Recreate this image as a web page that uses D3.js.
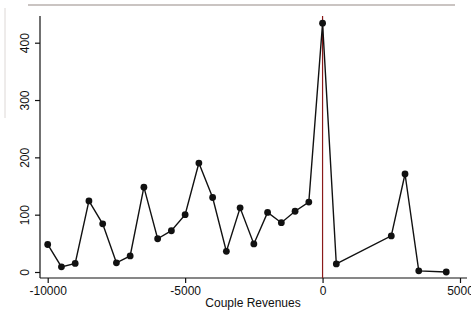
<!DOCTYPE html>
<html>
<head>
<meta charset="utf-8">
<script src="https://cdn.jsdelivr.net/npm/d3@7"></script>
<style>
  html, body { margin: 0; padding: 0; background: #fff; }
  svg { display: block; }
  text { font-family: "Liberation Sans", Arial, Helvetica, sans-serif; fill: #111; }
</style>
</head>
<body>
<svg id="chart" width="471" height="322"></svg>
<script>
// Couple revenue bins (x) and counts (y)
const revenues = [-10000, -9500, -9000, -8500, -8000, -7500, -7000, -6500, -6000, -5500,
                  -5000, -4500, -4000, -3500, -3000, -2500, -2000, -1500, -1000, -500,
                  0, 500, 2500, 3000, 3500, 4500];
const counts   = [48, 9, 15, 124, 84, 16, 28, 148, 58, 72,
                  100, 190, 130, 36, 112, 49, 104, 86, 106, 122,
                  434, 14, 63, 171, 2, 0];
const xTicks = [-10000, -5000, 0, 5000];
const yTicks = [0, 100, 200, 300, 400];
const xTitle = "Couple Revenues";

const svg = d3.select("#chart");

// scan border edges
svg.append("line").attr("x1", 28).attr("x2", 455).attr("y1", 5).attr("y2", 5)
  .attr("stroke", "#b8b0ae").attr("stroke-width", 1.5);
svg.append("line").attr("x1", 5).attr("x2", 5).attr("y1", 8).attr("y2", 118)
  .attr("stroke", "#ddd8d6").attr("stroke-width", 1);

const x = d3.scaleLinear().domain([-10000, 5000]).range([47.7, 460]);
const y = d3.scaleLinear().domain([0, 400]).range([272, 42.7]);

const plotLeft = 40, plotRight = 467, plotTop = 16, plotBottom = 278;

// Axes
const xAxis = d3.axisBottom(x).tickValues(xTicks).tickSize(5).tickPadding(3).tickFormat(d3.format("d"));
const gx = svg.append("g").attr("transform", `translate(0,${plotBottom})`).call(xAxis);
gx.select(".domain").remove();
gx.append("line").attr("x1", plotLeft).attr("x2", plotRight).attr("stroke", "#111").attr("stroke-width", 1.2);
gx.selectAll(".tick line").attr("stroke", "#111").attr("stroke-width", 1.2);
gx.selectAll(".tick text").attr("font-size", 12).attr("fill", "#111")
  .text(d => d < 0 ? "-" + Math.abs(d) : String(d));

const yAxis = d3.axisLeft(y).tickValues(yTicks).tickSize(5).tickFormat(d3.format("d"));
const gy = svg.append("g").attr("transform", `translate(${plotLeft},0)`).call(yAxis);
gy.select(".domain").remove();
gy.append("line").attr("y1", plotTop).attr("y2", plotBottom).attr("stroke", "#111").attr("stroke-width", 1.2);
gy.selectAll(".tick line").attr("stroke", "#111").attr("stroke-width", 1.2);
gy.selectAll(".tick text").attr("font-size", 12).attr("fill", "#111")
  .attr("x", 0).attr("dy", 0)
  .attr("text-anchor", "middle")
  .attr("transform", "translate(-11,0) rotate(-90)");

// x title
svg.append("text").attr("x", 253).attr("y", 307)
  .attr("text-anchor", "middle").attr("font-size", 12).text(xTitle);

// reference line at zero
svg.append("line").attr("x1", x(0)).attr("x2", x(0)).attr("y1", plotTop).attr("y2", plotBottom)
  .attr("stroke", "#8b1a1a").attr("stroke-width", 1.2);

const pts = revenues.map((r, i) => [r, counts[i]]);
const line = d3.line().x(d => x(d[0])).y(d => y(d[1]));
svg.append("path").datum(pts).attr("d", line)
  .attr("fill", "none").attr("stroke", "#111").attr("stroke-width", 1.4);

svg.append("g").selectAll("circle").data(pts).join("circle")
  .attr("cx", d => x(d[0])).attr("cy", d => y(d[1])).attr("r", 3.4).attr("fill", "#111");
</script>
</body>
</html>
